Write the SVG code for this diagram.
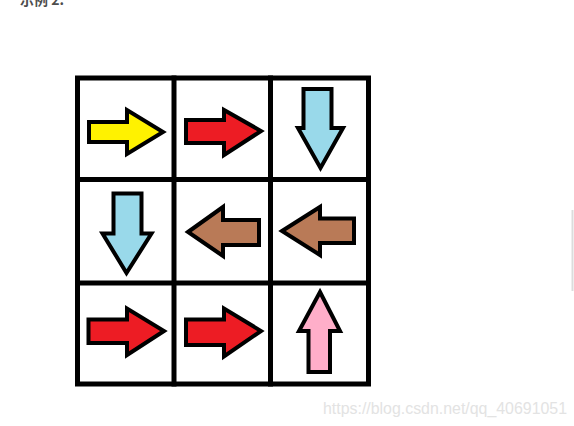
<svg xmlns="http://www.w3.org/2000/svg" width="574" height="426" viewBox="0 0 574 426">
<style>
.grid{fill:none;stroke:#000;stroke-width:5;stroke-linecap:square}
.arr{stroke:#000;stroke-width:4;stroke-linejoin:miter;stroke-miterlimit:10}
.yellow{fill:#FFF200}
.red{fill:#ED1C24}
.blue{fill:#99D9EA}
.brown{fill:#B97A57}
.pink{fill:#FFAEC9}
</style>
<rect width="574" height="426" fill="#fff"/>
<text x="20" y="5" font-family="'Noto Sans CJK SC','Liberation Sans',sans-serif" font-size="14" font-weight="bold" fill="#4d4d4d">示例 2:</text>
<g id="grid">
<rect class="grid" x="77.5" y="78" width="291" height="306"/>
<line class="grid" x1="174" y1="78" x2="174" y2="384"/>
<line class="grid" x1="270.5" y1="78" x2="270.5" y2="384"/>
<line class="grid" x1="77.5" y1="179.5" x2="368.5" y2="179.5"/>
<line class="grid" x1="77.5" y1="283" x2="368.5" y2="283"/>
</g>
<g id="connectors"></g>
<g id="r1c1"><polygon class="arr yellow" points="89,122 127,122 127,110 163,132 127,154 127,142 89,142"/></g>
<g id="r1c2"><polygon class="arr red" points="186,120 224,120 224,110 261,131 224,155 224,143 186,143"/></g>
<g id="r1c3"><polygon class="arr blue" points="303.5,89 331.5,89 331.5,128 343,128 320.5,168 298,128 303.5,128"/></g>
<g id="r2c1"><polygon class="arr blue" points="113.5,193.5 141.5,193.5 141.5,233.5 151.5,233.5 126.5,273 102.5,233.5 113.5,233.5"/></g>
<g id="r2c2"><polygon class="arr brown" points="188,232 223,207 223,220 259,220 259,245 223,245 223,256"/></g>
<g id="r2c3"><polygon class="arr brown" points="282,231 320,207 320,218.5 354,218.5 354,243 320,243 320,255"/></g>
<g id="r3c1"><polygon class="arr red" points="88.5,319.5 127,319.5 127,308.5 164,331 127,355 127,343 88.5,343"/></g>
<g id="r3c2"><polygon class="arr red" points="186,319.5 224,319.5 224,308.5 261,331 224,356.5 224,345 186,345"/></g>
<g id="r3c3"><polygon class="arr pink" points="320,292 340,331 330,331 330,372 308.5,372 308.5,331 299,331"/></g>
<line x1="572.5" y1="210" x2="572.5" y2="291" stroke="#dcdcdc" stroke-width="2"/>
<text x="323" y="414" font-family="'Liberation Sans',Arial,sans-serif" font-size="16" fill="#e3e3e3" textLength="244" lengthAdjust="spacingAndGlyphs">https://blog.csdn.net/qq_40691051</text>
</svg>
